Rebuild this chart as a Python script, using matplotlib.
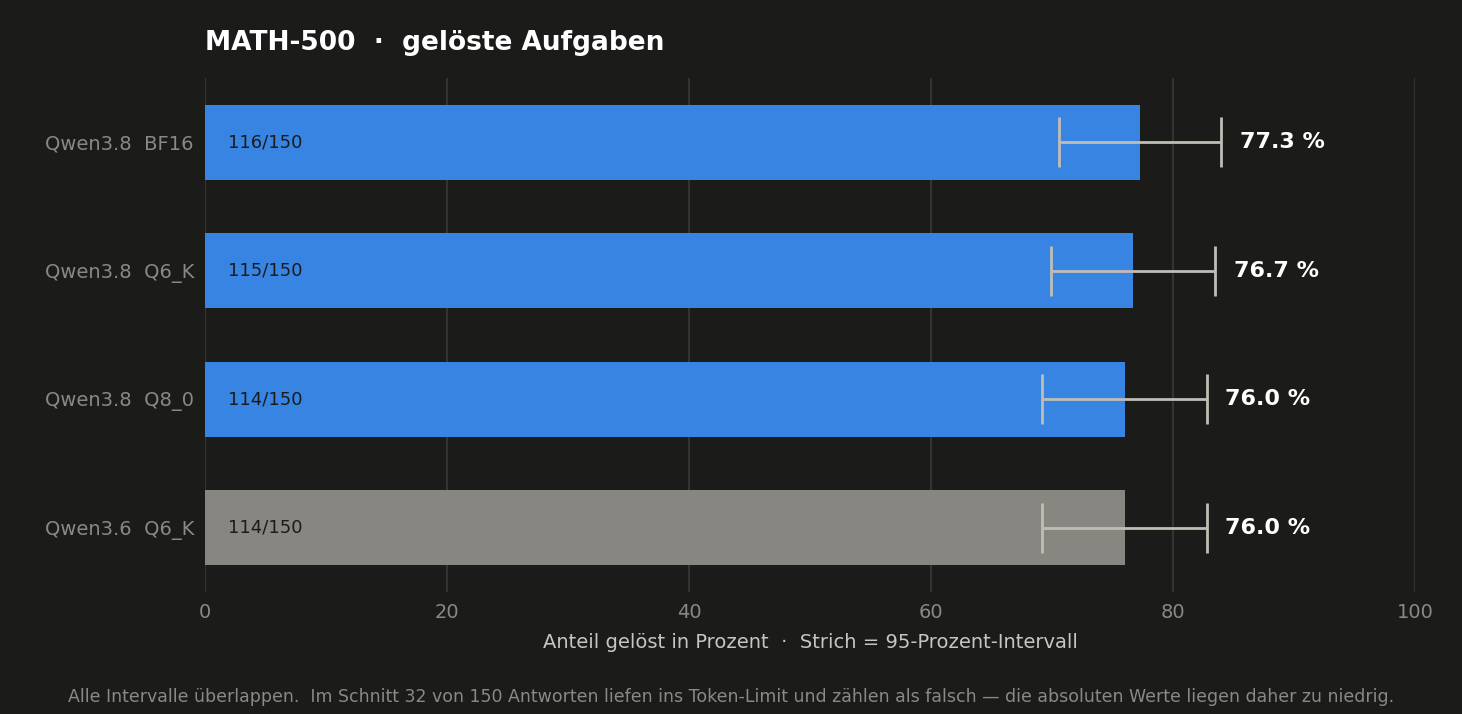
import matplotlib.pyplot as plt
import numpy as np

# data
labels = ['Qwen3.8  BF16', 'Qwen3.8  Q6_K', 'Qwen3.8  Q8_0', 'Qwen3.6  Q6_K']
solved = [116, 115, 114, 114]
total = 150
pct = [77.3, 76.7, 76.0, 76.0]
ci_low = [70.6, 69.9, 69.2, 69.2]
ci_high = [84.0, 83.5, 82.8, 82.8]
colors = ['#3884e3', '#3884e3', '#3884e3', '#878681']

bg = '#1b1b1a'
fig = plt.figure(figsize=(14.62, 7.14), dpi=100, facecolor=bg)
ax = fig.add_axes([205 / 1462, 1 - 592 / 714, 1210 / 1462, 514 / 714], facecolor=bg)

y = np.arange(len(labels))
ax.barh(y, pct, height=0.58, color=colors, zorder=2)
pct_a = np.array(pct)
xerr = [pct_a - np.array(ci_low), np.array(ci_high) - pct_a]
ax.errorbar(pct, y, xerr=xerr, fmt='none', ecolor='#c0bdb5', elinewidth=2,
            capsize=18, capthick=2, zorder=3)

for i in range(len(labels)):
    ax.text(1.9, y[i], f'{solved[i]}/{total}', va='center', ha='left',
            fontsize=13, color='#1b1b1a', zorder=4)
    ax.text(ci_high[i] + 1.5, y[i], f'{pct[i]:.1f} %', va='center', ha='left',
            fontsize=16, fontweight='bold', color='white', zorder=4)

ax.set_xlim(0, 100)
ax.set_ylim(3.5, -0.5)
ax.set_yticks(y)
ax.set_yticklabels(labels)
ax.set_xticks([0, 20, 40, 60, 80, 100])
ax.tick_params(colors='#8a8984', labelsize=14, length=0, pad=8)
ax.xaxis.grid(True, color='#333331', linewidth=1.5, zorder=0)
for s in ax.spines.values():
    s.set_visible(False)
ax.axvline(0, color='#3a3a38', linewidth=1.5, zorder=1)

ax.set_xlabel('Anteil gelöst in Prozent  ·  Strich = 95-Prozent-Intervall',
              color='#c8c6bf', fontsize=14, labelpad=8)
ax.set_title('MATH-500  ·  gelöste Aufgaben', loc='left', color='white',
             fontsize=19, fontweight='bold', pad=20)

fig.text(0.5, 1 - 697 / 714,
         'Alle Intervalle überlappen.  Im Schnitt 32 von 150 Antworten liefen ins Token-Limit '
         'und zählen als falsch — die absoluten Werte liegen daher zu niedrig.',
         ha='center', va='center', color='#8a8984', fontsize=12.5)

fig.savefig('out.png', dpi=100, facecolor=bg)
